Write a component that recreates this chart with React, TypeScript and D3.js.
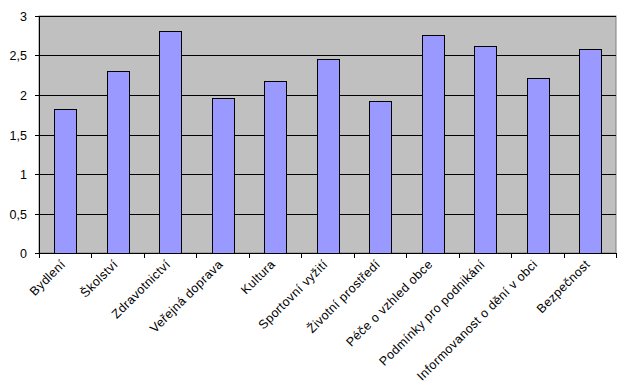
import * as d3 from 'd3';
import React from 'react';

const categories = [
  'Bydlení',
  'Školství',
  'Zdravotnictví',
  'Veřejná doprava',
  'Kultura',
  'Sportovní vyžití',
  'Životní prostředí',
  'Péče o vzhled obce',
  'Podmínky pro podnikání',
  'Informovanost o dění v obci',
  'Bezpečnost',
];
const values = [1.82, 2.31, 2.81, 1.96, 2.18, 2.45, 1.93, 2.76, 2.62, 2.22, 2.58];
const yTicks = [0, 0.5, 1, 1.5, 2, 2.5, 3];
const yTickLabels = ['0', '0,5', '1', '1,5', '2', '2,5', '3'];

const App: React.FC = () => {
  const W = 622;
  const H = 388;
  const margin = { top: 16, right: 6, bottom: 135, left: 39 };
  const width = W - margin.left - margin.right;
  const height = H - margin.top - margin.bottom;

  const x = d3.scaleBand<string>().domain(categories).range([0, width]).padding(0);
  const y = d3.scaleLinear().domain([0, 3]).range([height, 0]);
  const barW = x.bandwidth() * 0.41;
  const font = 'Liberation Sans, Arial, sans-serif';

  return (
    <div style={{ position: 'absolute', left: 0, top: 0 }}>
      <svg width={W} height={H} style={{ display: 'block', background: '#fff' }}>
        <g transform={`translate(${margin.left}, ${margin.top})`}>
          <rect x={0} y={0} width={width} height={height} fill="#C0C0C0" stroke="#808080" />
          {yTicks.slice(1).map(t => (
            <line key={t} x1={0} x2={width} y1={Math.round(y(t)) + 0.5} y2={Math.round(y(t)) + 0.5} stroke="#000" />
          ))}
          {categories.map((c, i) => (
            <rect
              key={c}
              x={Math.round((x(c) ?? 0) + (x.bandwidth() - barW) / 2) + 0.5}
              y={Math.round(y(values[i])) + 0.5}
              width={Math.round(barW)}
              height={Math.round(height - y(values[i]))}
              fill="#9999FF"
              stroke="#000"
            />
          ))}
          {/* axes */}
          <line x1={0.5} x2={0.5} y1={0} y2={height} stroke="#000" />
          <line x1={0} x2={width} y1={height + 0.5} y2={height + 0.5} stroke="#000" />
          {yTicks.map((t, i) => (
            <g key={t} transform={`translate(0, ${Math.round(y(t)) + 0.5})`}>
              <line x1={-4} x2={0} stroke="#000" />
              <text x={-12} dy="0.35em" textAnchor="end" fontFamily={font} fontSize={12.5} fill="#000">
                {yTickLabels[i]}
              </text>
            </g>
          ))}
          {categories.concat(['']).map((c, i) => {
            const xp = Math.round(i * x.step()) + 0.5;
            return <line key={'t' + i} x1={xp} x2={xp} y1={height} y2={height + 5} stroke="#000" />;
          })}
          {categories.map(c => {
            const cx = (x(c) ?? 0) + x.bandwidth() / 2;
            return (
              <text
                key={'l' + c}
                transform={`translate(${cx + 1}, ${height + 12}) rotate(-45)`}
                textAnchor="end"
                fontFamily={font}
                fontSize={12.5}
                letterSpacing={0.4}
                fill="#000"
              >
                {c}
              </text>
            );
          })}
        </g>
      </svg>
    </div>
  );
};

export default App;
